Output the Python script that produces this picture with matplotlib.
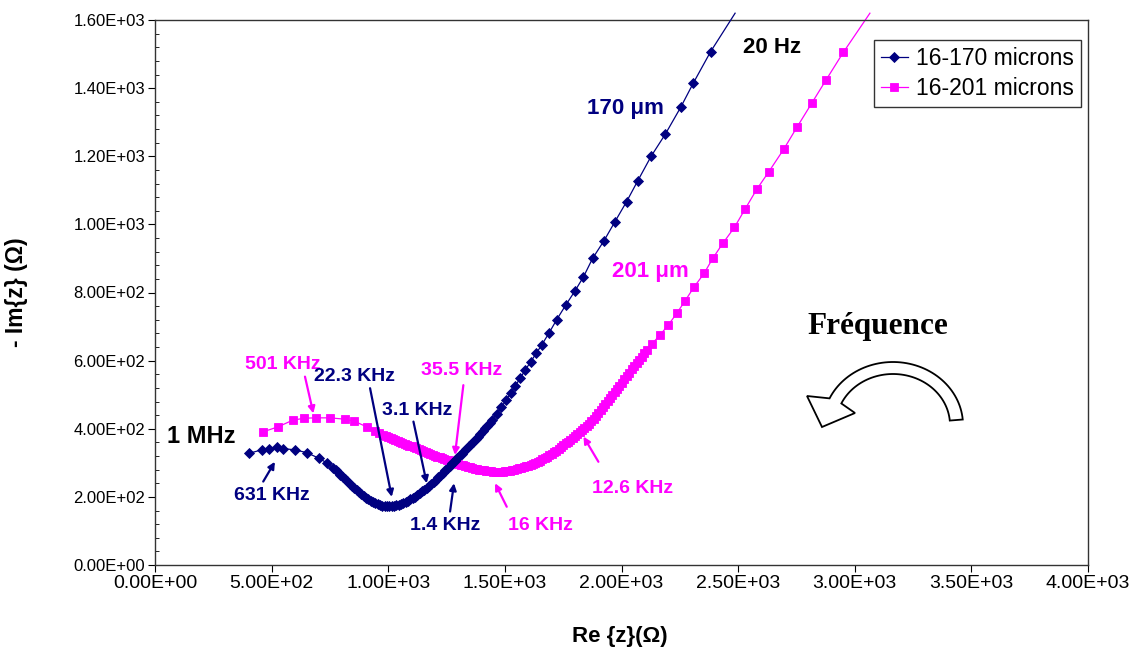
import matplotlib
matplotlib.use('Agg')
import matplotlib.pyplot as plt
import matplotlib.ticker as mticker
import matplotlib.transforms as mtransforms
from matplotlib.patches import Polygon
import numpy as np

plt.rcParams['font.family'] = ['Liberation Sans', 'DejaVu Sans']

NAVY = '#000080'
PINK = '#FF00FF'

# 16-170 microns : Re{z}, -Im{z} (ohm); last point = line end beyond the frame
re_170 = [404, 457, 490, 524, 547, 600, 650, 704, 736, 765, 775, 785, 795, 805,
          815, 825, 835, 845, 855, 865, 875, 885, 895, 905, 915, 925, 935, 945,
          955, 965, 975, 985, 995, 1005, 1015, 1025, 1035, 1045, 1055, 1065,
          1075, 1085, 1095, 1105, 1115, 1125, 1135, 1145, 1155, 1165, 1175, 1185,
          1195, 1205, 1215, 1225, 1235, 1245, 1255, 1265, 1275, 1285, 1295, 1305,
          1315, 1325, 1335, 1345, 1355, 1365, 1375, 1385, 1395, 1405, 1415, 1425,
          1435, 1445, 1465, 1485, 1505, 1525, 1545, 1566, 1588, 1611, 1634, 1658,
          1690, 1722, 1760, 1800, 1837, 1876, 1925, 1972, 2022, 2069, 2127, 2188,
          2254, 2308, 2382, 2487]
im_170 = [328, 338, 342, 345, 342, 338, 330, 313, 300, 284, 278, 272, 265, 259,
          252, 246, 239, 233, 227, 221, 215, 209, 203, 198, 193, 189, 185, 181,
          178, 176, 174, 173, 172, 172, 172, 173, 175, 177, 180, 183,
          186, 189, 193, 197, 201, 206, 211, 216, 221, 227, 233, 239,
          245, 251, 258, 264, 271, 278, 285, 292, 299, 306, 313, 320,
          327, 334, 341, 348, 355, 362, 369, 377, 385, 393, 401, 409,
          417, 426, 444, 463, 484, 505, 526, 549, 573, 597, 621, 646,
          682, 720, 762, 804, 846, 900, 952, 1008, 1067, 1127, 1200, 1265,
          1344, 1415, 1507, 1620]

# 16-201 microns
re_201 = [464, 529, 590, 640, 690, 750, 815, 855, 907, 945, 962, 979, 990, 1000,
          1010, 1020, 1030, 1040, 1050, 1060, 1070, 1080, 1090, 1100, 1110, 1120,
          1130, 1140, 1150, 1160, 1170, 1180, 1190, 1200, 1210, 1220, 1230, 1240,
          1250, 1260, 1270, 1280, 1290, 1300, 1310, 1320, 1330, 1340, 1350, 1360,
          1370, 1380, 1390, 1400, 1410, 1420, 1430, 1440, 1450, 1460, 1470, 1480,
          1490, 1500, 1510, 1520, 1530, 1540, 1550, 1560, 1570, 1580, 1590, 1600,
          1610, 1620, 1630, 1640, 1650, 1660, 1670, 1680, 1690, 1700, 1710, 1720,
          1730, 1740, 1750, 1760, 1770, 1780, 1790, 1800, 1810, 1820, 1830, 1840,
          1850, 1860, 1870, 1880, 1890, 1900, 1910, 1920, 1930, 1940, 1950, 1960,
          1970, 1980, 1990, 2000, 2011, 2022, 2033, 2044, 2055, 2066, 2077, 2088,
          2098, 2108, 2129, 2165, 2201, 2237, 2272, 2312, 2354, 2391, 2434, 2484,
          2529, 2580, 2632, 2695, 2752, 2815, 2877, 2951, 3065]
im_201 = [391, 406, 425, 431, 432, 432, 428, 422, 406, 394, 388, 383, 380, 377,
          374, 371, 368, 365, 362, 359, 356, 353, 350, 348, 345, 343,
          340, 337, 334, 331, 328, 326, 323, 321, 318, 316, 313, 311,
          309, 307, 304, 302, 299, 297, 295, 293, 291, 289, 287, 285,
          283, 282, 280, 279, 278, 277, 276, 275, 274, 274, 274, 274,
          274, 275, 276, 277, 278, 280, 282, 284, 286, 288, 290, 292,
          294, 297, 300, 303, 306, 310, 314, 318, 322, 326, 331, 336,
          341, 346, 351, 357, 362, 368, 373, 379, 384, 390, 396, 402,
          408, 415, 422, 429, 437, 446, 454, 463, 472, 481, 490, 499,
          508, 517, 526, 535, 545, 555, 565, 575, 585, 594, 603, 612,
          621, 630, 648, 675, 705, 739, 775, 817, 856, 900, 944, 991,
          1044, 1103, 1155, 1220, 1285, 1355, 1424, 1505, 1620]

# frequency annotations: text, colour, text pos, arrow tail, arrow tip
notes = [
    ('631 KHz', NAVY, (502, 203), (464, 245), (514, 303)),
    ('501 KHz', PINK, (549, 590), (643, 553), (679, 445)),
    ('22.3 KHz', NAVY, (857, 552), (922, 519), (1015, 200)),
    ('3.1 KHz', NAVY, (1123, 455), (1108, 421), (1165, 240)),
    ('35.5 KHz', PINK, (1316, 570), (1322, 528), (1286, 323)),
    ('1.4 KHz', NAVY, (1243, 117), (1265, 157), (1282, 240)),
    ('16 KHz', PINK, (1651, 117), (1508, 171), (1458, 240)),
    ('12.6 KHz', PINK, (2049, 226), (1901, 303), (1837, 377)),
]


def sci(v, pos=None):
    if v <= 0:
        return '0.00E+00'
    e = int(np.floor(np.log10(v)))
    return '%.2fE%+03d' % (v / 10 ** e, e)


def main():
    fig = plt.figure(figsize=(11.45, 6.53), dpi=100)
    ax = fig.add_axes([155 / 1145, 88 / 653, 933 / 1145, 545 / 653])

    n1 = len(re_170) - 1
    n2 = len(re_201) - 1
    ax.plot(re_170, im_170, color=NAVY, lw=0.9, marker='D', ms=4.6, mew=0.6,
            mfc=NAVY, mec=NAVY, markevery=list(range(n1)), clip_on=False,
            label='16-170 microns', zorder=3)
    ax.plot(re_201, im_201, color=PINK, lw=0.9, marker='s', ms=5.8, mew=0.6,
            mfc=PINK, mec=PINK, markevery=list(range(n2)), clip_on=False,
            label='16-201 microns', zorder=2)

    ax.set_xlim(0, 4000)
    ax.set_ylim(0, 1600)
    ax.xaxis.set_major_locator(mticker.MultipleLocator(500))
    ax.yaxis.set_major_locator(mticker.MultipleLocator(200))
    ax.yaxis.set_minor_locator(mticker.MultipleLocator(40))
    ax.xaxis.set_major_formatter(mticker.FuncFormatter(sci))
    ax.yaxis.set_major_formatter(mticker.FuncFormatter(sci))
    ax.tick_params(which='major', direction='out', length=5)
    ax.tick_params(which='minor', direction='in', length=3)
    ax.tick_params(axis='x', labelsize=14, pad=2)
    ax.tick_params(axis='y', labelsize=12, pad=2)
    for s in ax.spines.values():
        s.set_linewidth(1.0)
        s.set_color('#333333')

    ax.set_xlabel('Re {z}(\u03a9)', fontsize=16, fontweight='bold')
    ax.set_ylabel('- Im{z} (\u03a9)', fontsize=16.5, fontweight='bold')
    ax.xaxis.set_label_coords(0.498, -0.112)
    ax.yaxis.set_label_coords(-0.136, 0.5)

    for txt, col, tpos, tail, tip in notes:
        ax.text(tpos[0], tpos[1], txt, color=col, fontsize=14, fontweight='bold',
                ha='center', va='center')
        ax.annotate('', xy=tip, xytext=tail,
                    arrowprops=dict(arrowstyle='-|>', color=col, lw=1.6,
                                    mutation_scale=10, shrinkA=0, shrinkB=0))

    ax.text(51, 376, '1 MHz', fontsize=17, fontweight='bold', ha='left', va='center')
    ax.text(2645, 1518, '20 Hz', fontsize=16, fontweight='bold', ha='center', va='center')
    ax.text(2015, 1339, '170 \u03bcm', fontsize=16, fontweight='bold', color=NAVY,
            ha='center', va='center')
    ax.text(2122, 863, '201 \u03bcm', fontsize=16, fontweight='bold', color=PINK,
            ha='center', va='center')
    ax.text(3100, 699, 'Fréquence', fontsize=22.5, fontweight='bold', ha='center',
            va='center', family=['Liberation Serif', 'DejaVu Serif'])

    # hollow curved arrow, drawn in figure pixels (y down)
    pix = mtransforms.Affine2D().scale(1 / 1145, -1 / 653).translate(0, 1) + fig.transFigure
    cx, cy = 893, 425
    t = np.radians(np.linspace(5, 155, 60))
    outer = np.column_stack([cx + 70 * np.cos(t), cy - 63 * np.sin(t)])
    inner = np.column_stack([cx + 57 * np.cos(t), cy - 51 * np.sin(t)])[::-1]
    head = np.array([[807, 396], [822, 427], [855, 413]])
    verts = np.vstack([outer, head, inner])
    fig.patches.append(Polygon(verts, closed=True, facecolor='white', edgecolor='black',
                               lw=1.3, transform=pix, figure=fig))

    leg = ax.legend(loc='upper right', bbox_to_anchor=(0.9925, 0.963), fontsize=16.5,
                    frameon=True, fancybox=False, edgecolor='black',
                    handlelength=1.2, handletextpad=0.35, borderpad=0.3,
                    labelspacing=0.3, borderaxespad=0)
    leg.get_frame().set_linewidth(1.0)

    fig.savefig('out.png', dpi=100)


if __name__ == '__main__':
    main()
